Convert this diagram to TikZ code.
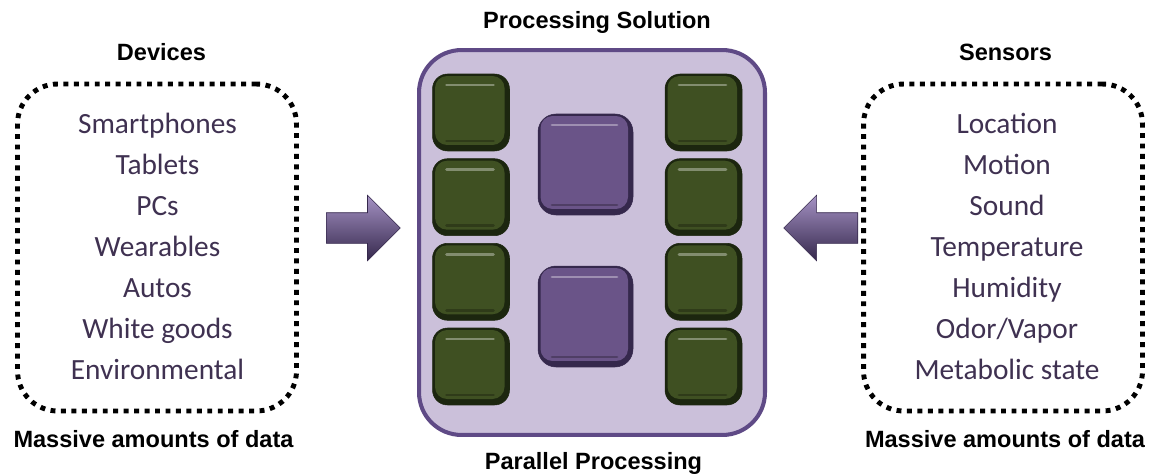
\documentclass[tikz,border=0pt]{standalone}
\usepackage{fontspec}
\setmainfont{Liberation Sans}
\newfontfamily\bodyfont{Carlito}
\usetikzlibrary{shapes.arrows, positioning}
\definecolor{lilac}{HTML}{CBC0DA}
\definecolor{plum}{HTML}{5F4A86}
\definecolor{ink}{HTML}{3F3151}
\definecolor{gbase}{HTML}{3F5022}
\definecolor{glight}{HTML}{7A9160}
\definecolor{gdark}{HTML}{1C260F}
\definecolor{pbase}{HTML}{6A5488}
\definecolor{plight}{HTML}{A592C4}
\definecolor{pdark}{HTML}{35284C}

\begin{document}
\begin{tikzpicture}[
    x=0.02cm, y=-0.02cm,
    dotbox/.style={draw, rounded corners=0.8cm, line width=2.8pt, dash pattern=on 2.8pt off 3.15pt, minimum width=5.58cm, minimum height=6.54cm, inner sep=0},
    panel/.style={draw=plum, fill=lilac, rounded corners=0.85cm, line width=2.3pt, minimum width=6.92cm, minimum height=7.7cm, inner sep=0},
    bevel/.style 2 args={inner sep=0, fill=#2, draw=#2, line width=0.3pt, path picture={
        \fill[#1, rounded corners=0.24cm] ([shift={(0.05cm,0.12cm)}]path picture bounding box.south west) rectangle ([shift={(-0.1cm,-0.04cm)}]path picture bounding box.north east);
        \draw[white, opacity=0.35, line width=1.6pt, line cap=round] ([shift={(0.28cm,-0.22cm)}]path picture bounding box.north west) -- ([shift={(-0.32cm,-0.22cm)}]path picture bounding box.north east);
        \draw[black, opacity=0.25, line width=1.6pt, line cap=round] ([shift={(0.28cm,0.2cm)}]path picture bounding box.south west) -- ([shift={(-0.32cm,0.2cm)}]path picture bounding box.south east);
      }},
    cell/.style={bevel={gbase}{gdark}, rounded corners=0.3cm, minimum width=1.54cm, minimum height=1.54cm},
    unit/.style={bevel={pbase}{pdark}, rounded corners=0.36cm, minimum width=1.9cm, minimum height=2.02cm},
    feed/.style={single arrow, single arrow head extend=0.35cm, text height=0.3cm, text depth=0.3cm, minimum height=1.48cm, inner sep=0, top color=plight, middle color=pbase, bottom color=pdark, draw=pdark, line width=0.3pt, anchor=tail},
    heading/.style={font=\bfseries\fontsize{13.4}{16}\selectfont, anchor=base, inner sep=0},
    item/.style={font=\bodyfont\fontsize{16.7}{20}\selectfont, text=ink, anchor=base, inner sep=0}
  ]
    \useasboundingbox (0,0) rectangle (1151,473);

    % the three frames
    \node[dotbox] (devbox) at (157, 247.5) {};
    \node[dotbox] (senbox) at (1003, 247.5) {};
    \node[panel] (core) at (592, 242.5) {};

    % processing units
    \foreach \row [count=\r] in {112.5, 197.2, 281.8, 366.5} {
      \node[cell] (gl\r) at (471, \row) {};
      \node[cell] (gr\r) at (703.5, \row) {};
    }
    \node[unit] (pu1) at (585.5, 164.5) {};
    \node[unit] (pu2) at (585.5, 316.5) {};

    % inputs
    \node[feed] (inL) at (326, 228) {};
    \node[feed, shape border rotate=180] (inR) at (858, 228) {};

    \foreach \name [count=\i] in {Smartphones, Tablets, PCs, Wearables, Autos, White goods, Environmental}
      \node[item] (dev\i) at (157.5, 92+41*\i) {\name};
    \foreach \name [count=\i] in {Location, Motion, Sound, Temperature, Humidity, Odor/Vapor, Metabolic state}
      \node[item] (sen\i) at (1007, 92+41*\i) {\name};

    % headings
    \node[heading] (devtitle) at (161.5, 61) {Devices};
    \node[heading] (sentitle) at (1005.5, 61) {Sensors};
    \node[heading] (coretitle) at (597, 28.5) {Processing Solution};
    \node[heading] (corefoot) at (593.5, 469) {Parallel Processing};
    \node[heading] (devfoot) at (153.5, 447) {Massive amounts of data};
    \node[heading] (senfoot) at (1005, 447) {Massive amounts of data};

  \end{tikzpicture}
\end{document}
